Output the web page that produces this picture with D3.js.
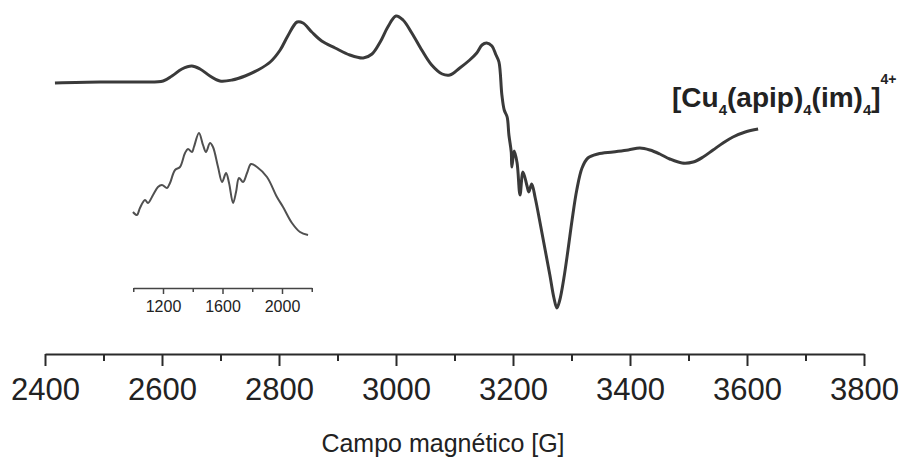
<!DOCTYPE html>
<html>
<head>
<meta charset="utf-8">
<script src="https://cdn.jsdelivr.net/npm/d3@7"></script>
<style>
    body { margin: 0; background: #fff; }
    text { font-family: "Liberation Sans", Arial, sans-serif; fill: #222; }
</style>
</head>
<body>
<div id="myGraph"></div>
<script>
// EPR spectrum, field in gauss, intensity in arbitrary units
const fieldG = [2417, 2494, 2562, 2602, 2617, 2634, 2651, 2665, 2682, 2699, 2720, 2742, 2764, 2785, 2802, 2815, 2831, 2841, 2856, 2873,
    2896, 2921, 2944, 2959, 2973, 2986, 3000, 3012, 3027, 3044, 3061, 3079, 3092, 3109, 3126, 3138, 3147, 3155, 3164, 3171,
    3176, 3181, 3185, 3190, 3193, 3197, 3198, 3202, 3207, 3212, 3217, 3224, 3227, 3232, 3238, 3246, 3255, 3263, 3270, 3275,
    3280, 3287, 3294, 3301, 3309, 3318, 3328, 3345, 3371, 3397, 3417, 3434, 3451, 3468, 3489, 3508, 3525, 3542, 3559, 3576,
    3597, 3619];
const signal = [0, 1, 1, 2, 7, 14, 17, 14, 7, 2, 3, 7, 13, 21, 33, 47, 61, 60, 51, 42,
    35, 28, 25, 29, 41, 56, 67, 63, 50, 33, 18, 9, 8, 15, 23, 30, 38, 40, 37, 28,
    21, -12, -27, -34, -52, -69, -84, -68, -80, -112, -89, -103, -109, -101, -115, -139, -167, -192, -215, -225,
    -217, -195, -167, -137, -107, -85, -75, -71, -69, -67, -65, -67, -71, -76, -80, -79, -74, -67, -60, -54,
    -49, -46];

// inset spectrum
const insetField = [998, 1025, 1045, 1079, 1099, 1133, 1166, 1193, 1227, 1247, 1281, 1314, 1348, 1368, 1395, 1408, 1442, 1469, 1489, 1516,
    1536, 1570, 1597, 1624, 1644, 1671, 1691, 1711, 1738, 1765, 1792, 1832, 1899, 1966, 2007, 2067, 2121, 2175];
const insetSignal = [38, 35, 42, 50, 47, 55, 63, 65, 62, 67, 80, 83, 97, 101, 98, 103, 117, 105, 98, 107,
    103, 83, 68, 77, 67, 47, 58, 72, 68, 77, 86, 83, 73, 53, 43, 27, 18, 15];

const majorTicks = [2400, 2600, 2800, 3000, 3200, 3400, 3600, 3800];
const minorTicks = [2500, 2700, 2900, 3100, 3300, 3500, 3700];
const insetMajorTicks = [1200, 1600, 2000];
const insetMinorTicks = [1000, 1400, 1800, 2200];

const width = 902;
const height = 458;

let svg = d3.select('#myGraph')
    .append('svg')
        .attr('width', width)
        .attr('height', height);

const xScale = d3.scaleLinear().domain([2400, 3800]).range([45, 864]);
const yScale = d3.scaleLinear().domain([-230, 70]).range([313, 13]);
const axisY = 354;

let mainData = fieldG.map((g, i) => ({g: g, v: signal[i]}));

svg.append('path')
    .datum(mainData)
    .attr('fill', 'none')
    .attr('stroke', '#3a3a3a')
    .attr('stroke-width', 3)
    .attr('stroke-linejoin', 'round')
    .attr('d', d3.line().curve(d3.curveCatmullRom.alpha(0.5)).x((d) => xScale(d.g)).y((d) => yScale(d.v)));

// bottom axis, labelled ticks every 200 G and short ones in between
let ax = svg.append('g')
    .attr('transform', `translate(0, ${axisY})`)
    .call(d3.axisBottom(xScale).tickValues(majorTicks).tickFormat(d3.format('d'))
        .tickSize(12).tickPadding(12).tickSizeOuter(0));
ax.select('.domain').attr('stroke', '#2a2a2a').attr('stroke-width', 2);
ax.selectAll('.tick line').attr('stroke', '#2a2a2a').attr('stroke-width', 2);
ax.selectAll('.tick text').style('font-size', '31px').attr('fill', '#2a2a2a');

let axMinor = svg.append('g')
    .attr('transform', `translate(0, ${axisY})`)
    .call(d3.axisBottom(xScale).tickValues(minorTicks).tickSize(7).tickFormat('').tickSizeOuter(0));
axMinor.select('.domain').remove();
axMinor.selectAll('.tick line').attr('stroke', '#2a2a2a').attr('stroke-width', 2);

svg.append('text')
    .attr('x', 443)
    .attr('y', 452)
    .attr('text-anchor', 'middle')
    .style('font-size', '25px')
    .text('Campo magnético [G]');

// inset
const insetX = d3.scaleLinear().domain([1000, 2200]).range([133.25, 311.75]);
const insetY = d3.scaleLinear().domain([0, 120]).range([250, 130]);
const insetAxisY = 288;

let insetData = insetField.map((g, i) => ({g: g, v: insetSignal[i]}));

svg.append('path')
    .datum(insetData)
    .attr('fill', 'none')
    .attr('stroke', '#505050')
    .attr('stroke-width', 2)
    .attr('stroke-linejoin', 'round')
    .attr('d', d3.line().curve(d3.curveCatmullRom.alpha(0.5)).x((d) => insetX(d.g)).y((d) => insetY(d.v)));

let inAx = svg.append('g')
    .attr('transform', `translate(0, ${insetAxisY})`)
    .call(d3.axisBottom(insetX).tickValues(insetMajorTicks).tickFormat(d3.format('d'))
        .tickSize(6).tickPadding(7).tickSizeOuter(0));
inAx.select('.domain').attr('stroke', '#444').attr('stroke-width', 1.5);
inAx.selectAll('.tick line').attr('stroke', '#444').attr('stroke-width', 1.5);
inAx.selectAll('.tick text').style('font-size', '16px').attr('fill', '#333');

let inMinor = svg.append('g')
    .attr('transform', `translate(0, ${insetAxisY})`)
    .call(d3.axisBottom(insetX).tickValues(insetMinorTicks).tickSize(4).tickFormat('').tickSizeOuter(0));
inMinor.select('.domain').remove();
inMinor.selectAll('.tick line').attr('stroke', '#444').attr('stroke-width', 1.5);

// compound label
let lbl = svg.append('text')
    .attr('x', 672)
    .attr('y', 107)
    .style('font-size', '28px')
    .style('font-weight', 'bold');
lbl.append('tspan').text('[Cu');
lbl.append('tspan').attr('dy', 8).style('font-size', '15px').text('4');
lbl.append('tspan').attr('dy', -8).text('(apip)');
lbl.append('tspan').attr('dy', 8).style('font-size', '15px').text('4');
lbl.append('tspan').attr('dy', -8).text('(im)');
lbl.append('tspan').attr('dy', 8).style('font-size', '15px').text('4');
lbl.append('tspan').attr('dy', -8).text(']');
lbl.append('tspan').attr('dy', -23).style('font-size', '14px').text('4+');
</script>
</body>
</html>
